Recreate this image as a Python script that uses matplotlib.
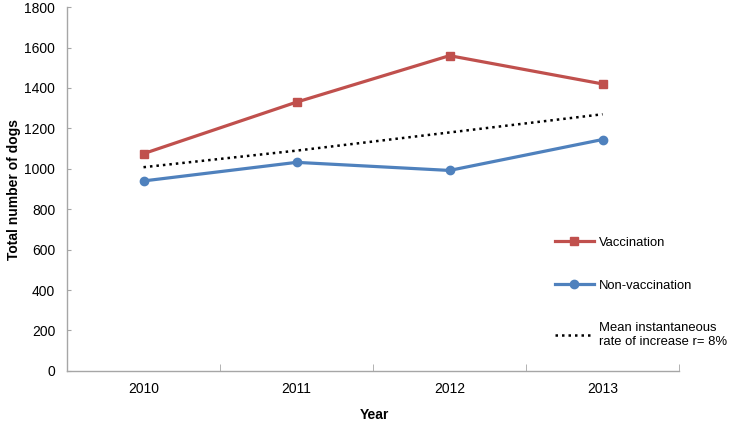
import numpy as np
import matplotlib.pyplot as plt
from matplotlib.ticker import FixedLocator

plt.rcParams['font.family'] = ['Liberation Sans', 'DejaVu Sans']

# Data
years = ['2010', '2011', '2012', '2013']
vaccination = [1075, 1330, 1560, 1420]
non_vaccination = [940, 1032, 992, 1145]
trend = [1008, 1090, 1180, 1270]

red = '#C0504D'
blue = '#4F81BD'
axis_grey = '#A6A6A6'

fig = plt.figure(figsize=(7.33, 4.21), dpi=100)
ax = fig.add_axes([0.0914, 0.119, 0.835, 0.864])

x = np.arange(len(years))
ax.plot(x, vaccination, color=red, lw=2.3, marker='s', ms=6, label='Vaccination')
ax.plot(x, non_vaccination, color=blue, lw=2.3, marker='o', ms=6, label='Non-vaccination')
ax.plot(x, trend, color='black', lw=1.8, ls=(0, (1, 1.6)),
        label='Mean instantaneous\nrate of increase r= 8%')

ax.set_xlim(-0.5, len(years) - 0.5)
ax.set_ylim(0, 1800)
ax.set_yticks(np.arange(0, 1801, 200))
ax.set_xticks(x)
ax.set_xticklabels(years)
ax.xaxis.set_minor_locator(FixedLocator(np.arange(-0.5, len(years), 1.0)))
ax.tick_params(axis='x', which='major', length=0, pad=8, labelsize=10)
ax.tick_params(axis='x', which='minor', direction='in', length=5, color=axis_grey)
ax.tick_params(axis='y', direction='in', length=3, color=axis_grey, pad=8.5, labelsize=10)

for s in ['top', 'right']:
    ax.spines[s].set_visible(False)
for s in ['left', 'bottom']:
    ax.spines[s].set_color(axis_grey)
    ax.spines[s].set_linewidth(1.0)

ax.set_xlabel('Year', fontsize=10, fontweight='bold', va='top')
ax.xaxis.set_label_coords(0.502, -0.101)
ax.set_ylabel('Total number of dogs', fontsize=10, fontweight='bold', va='center')
ax.yaxis.set_label_coords(-0.087, 0.5)

ax.legend(loc='upper left', bbox_to_anchor=(0.757, 0.438), bbox_transform=fig.transFigure,
          frameon=False, fontsize=9.4, handlelength=3.0, handletextpad=0.35,
          labelspacing=2.35, borderaxespad=0, borderpad=0)

fig.savefig('out.png', dpi=100)
